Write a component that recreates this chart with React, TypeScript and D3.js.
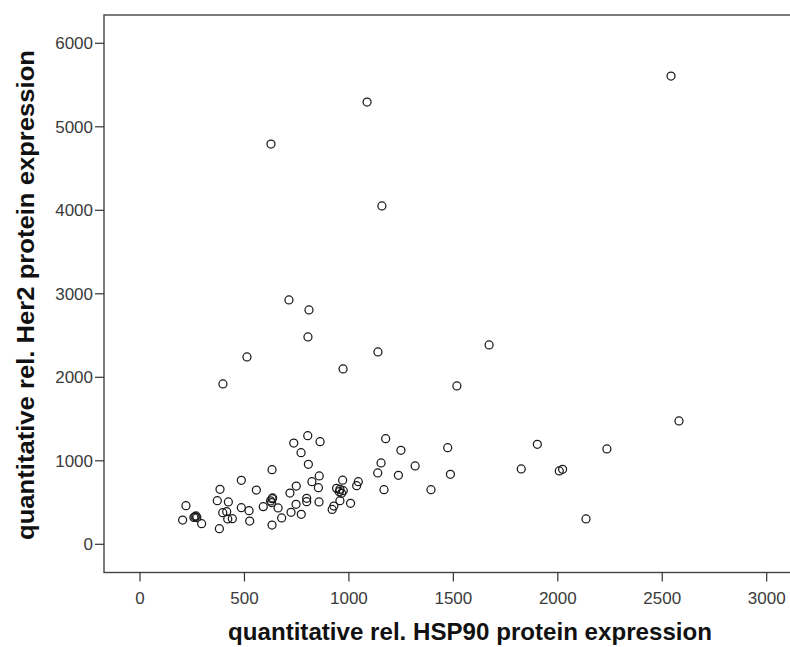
import React from "react";
import * as d3 from "d3";

const hsp90: number[] = [
  2542, 1087, 627, 1158, 713, 809, 804, 512, 397, 972, 1139, 1671, 1517, 2580, 2235, 1902, 1825, 2007, 2023, 2135, 1473, 1486, 1393,
  1176, 1249, 1154, 1138, 1237, 1317, 1168, 970, 1045, 1037, 941, 957, 965, 954, 973, 957, 1008, 928, 920,
  220, 204, 263, 268, 272, 258, 295, 383, 370, 423, 396, 415, 420, 442, 380, 485, 485, 522, 525, 557,
  632, 632, 625, 635, 630, 590, 661, 632, 678, 723, 718, 748, 747, 772, 736, 803, 862, 771, 806, 823, 858, 854, 798, 798, 857,
];
const her2: number[] = [
  5608, 5297, 4794, 4052, 2926, 2806, 2483, 2244, 1920, 2100, 2304, 2387, 1896, 1477, 1142, 1198, 902, 878, 898, 303, 1157, 838, 654,
  1265, 1126, 974, 854, 826, 938, 654, 768, 750, 702, 670, 658, 611, 630, 642, 522, 491, 458, 417,
  462, 291, 331, 340, 320, 322, 247, 659, 522, 507, 379, 391, 303, 307, 187, 766, 438, 402, 279, 650,
  893, 546, 520, 555, 500, 450, 435, 231, 315, 383, 614, 698, 479, 359, 1213, 1301, 1229, 1097, 958, 750, 818, 678, 551, 510, 507,
];
const xTicks: number[] = [0, 500, 1000, 1500, 2000, 2500, 3000];
const yTicks: number[] = [0, 1000, 2000, 3000, 4000, 5000, 6000];
const xTitle = "quantitative rel. HSP90 protein expression";
const yTitle = "quantitative rel. Her2 protein expression";

export default function App() {
  const W = 790, H = 647;
  const left = 104, top = 15, bottom = 572.5, right = 800;
  const x = d3.scaleLinear().domain([0, 3000]).range([140, 766.7]);
  const y = d3.scaleLinear().domain([0, 6000]).range([544.3, 43.3]);
  const pts = hsp90.map((v, i) => [v, her2[i]] as [number, number]);
  const tickFont = "'Liberation Sans', Arial, sans-serif";
  const titleFont = "'Liberation Sans Narrow', 'Liberation Sans', Arial, sans-serif";
  return (
    <div style={{ position: "fixed", left: 0, top: 0 }}>
      <svg width={W} height={H} style={{ display: "block", background: "#fff" }}>
        <rect x={left} y={top} width={right - left} height={bottom - top} fill="none" stroke="#444" strokeWidth={1.4} />
        {yTicks.map((t) => (
          <g key={"y" + t}>
            <line x1={95} x2={left} y1={y(t)} y2={y(t)} stroke="#333" strokeWidth={1.2} />
            <text x={93} y={y(t)} dy="0.36em" textAnchor="end" fontFamily={tickFont} fontSize={17} fill="#3a3a3a">{t}</text>
          </g>
        ))}
        {xTicks.map((t) => (
          <g key={"x" + t}>
            <line x1={x(t)} x2={x(t)} y1={bottom} y2={bottom + 9} stroke="#333" strokeWidth={1.2} />
            <text x={x(t)} y={604} textAnchor="middle" fontFamily={tickFont} fontSize={17} fill="#3a3a3a">{t}</text>
          </g>
        ))}
        {pts.map(([a, b], i) => (
          <circle key={i} cx={x(a)} cy={y(b)} r={4} fill="none" stroke="#1a1a1a" strokeWidth={1.25} />
        ))}
        <text x={470} y={640} textAnchor="middle" fontFamily={titleFont} fontWeight="bold" fontSize={24} fill="#111"
          textLength={484} lengthAdjust="spacingAndGlyphs">{xTitle}</text>
        <text transform={`translate(34,295) rotate(-90)`} textAnchor="middle" fontFamily={titleFont} fontWeight="bold" fontSize={24} fill="#111"
          textLength={490} lengthAdjust="spacingAndGlyphs">{yTitle}</text>
      </svg>
    </div>
  );
}
